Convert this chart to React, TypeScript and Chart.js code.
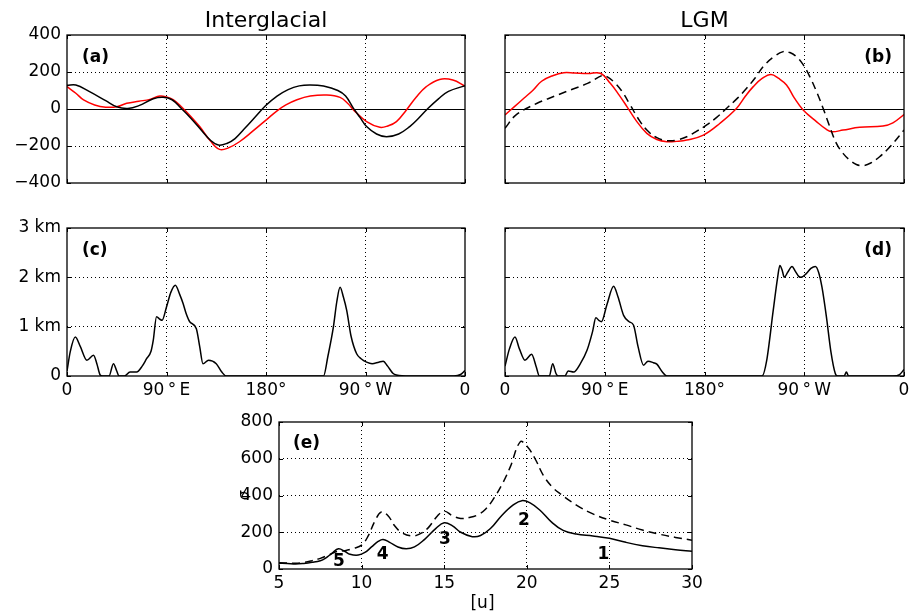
import React, { useEffect, useRef } from 'react';
import { Chart, registerables } from 'chart.js';

Chart.register(...registerables);

// ---------------- DATA ----------------
// Panel (a) Interglacial: longitude (deg, 0..360 eastward) and values
const aBlackLon = [0, 8, 20, 35, 45, 55, 65, 78, 87, 95, 103, 112, 120, 130, 137, 145, 152, 160, 170, 180, 190, 200, 210, 220, 232, 245, 252, 259, 265, 271, 280, 289, 300, 310, 318, 326, 336, 345, 360];
const aBlackVal = [128, 130, 95, 45, 12, 3, 18, 55, 63, 50, 5, -50, -104, -170, -195, -185, -160, -110, -45, 20, 70, 105, 125, 130, 124, 100, 70, 5, -45, -95, -135, -150, -135, -95, -50, 0, 55, 95, 126];
const aRedLon = [0, 8, 15, 25, 35, 45, 54, 65, 75, 84, 90, 96, 103, 112, 120, 130, 138, 146, 156, 168, 180, 190, 198, 208, 220, 235, 247, 254, 260, 271, 283, 290, 298, 307, 316, 325, 337, 349, 360];
const aRedVal = [121, 85, 49, 22, 10, 12, 31, 42, 52, 70, 65, 50, 15, -40, -95, -175, -218, -210, -177, -120, -60, -10, 22, 50, 70, 76, 63, 30, -10, -68, -99, -92, -68, -5, 65, 121, 160, 157, 124];

// Panel (b) LGM
const bRedLon = [0, 8, 17, 25, 33, 43, 53, 63, 75, 86, 95, 103, 110, 118, 128, 137, 146, 155, 164, 179, 194, 209, 217, 224, 232, 240, 247, 254, 261, 269, 281, 290, 295, 305, 320, 341, 350, 360];
const bRedVal = [-32, 10, 58, 100, 150, 180, 196, 194, 192, 193, 139, 75, 13, -60, -132, -165, -177, -175, -168, -141, -77, 4, 70, 121, 165, 187, 165, 130, 60, -5, -68, -110, -123, -114, -99, -92, -75, -30];
const bDashLon = [0, 10, 29, 45, 59, 75, 88, 92, 98, 105, 113, 120, 128, 137, 146, 155, 164, 173, 182, 191, 200, 210, 218, 226, 233, 242, 251, 257, 263, 269, 275, 281, 287, 293, 299, 305, 311, 317, 323, 330, 338, 348, 360];
const bDashVal = [-104, -32, 31, 70, 103, 140, 182, 175, 148, 100, 22, -50, -114, -155, -171, -168, -150, -120, -86, -45, 4, 60, 112, 170, 229, 280, 310, 305, 283, 240, 175, 95, 4, -95, -186, -240, -276, -300, -306, -292, -258, -200, -114];

// Panel (c) Interglacial topography (km)
const cLon = [0, 3, 7.5, 12, 18, 24, 27, 30, 32, 38, 42, 45, 47, 52, 57, 63, 68, 72, 76, 78, 81, 84, 86, 90, 94, 98, 102, 105, 108, 111, 117, 120, 123, 128, 135, 140, 144, 232, 236, 241, 244, 247, 250, 253, 257, 262, 266, 271, 276, 282, 286, 290, 295, 298, 310, 350, 356, 360];
const cTopo = [0.1, 0.5, 0.79, 0.6, 0.32, 0.42, 0.25, 0.02, 0, 0, 0.25, 0.1, 0, 0, 0.08, 0.08, 0.2, 0.35, 0.5, 0.72, 1.2, 1.15, 1.13, 1.4, 1.7, 1.84, 1.65, 1.47, 1.25, 1.1, 0.96, 0.6, 0.25, 0.32, 0.25, 0.08, 0, 0, 0.4, 1.0, 1.5, 1.8, 1.6, 1.33, 0.8, 0.45, 0.35, 0.28, 0.25, 0.28, 0.3, 0.2, 0.05, 0.02, 0, 0, 0.03, 0.11];

// Panel (d) LGM topography (km)
const dLon = [0, 4, 9, 13, 18, 24, 28, 31, 40, 43, 46, 48, 54, 57, 62, 68, 74, 79, 82, 85, 87, 92, 98, 102, 107, 112, 116, 120, 125, 129, 134, 137, 142, 146, 232, 236, 242, 246, 248, 250, 252, 255, 259, 262, 265, 267, 272, 276, 280, 283, 286, 290, 294, 298, 300, 306, 308, 310, 350, 356, 360];
const dTopo = [0.2, 0.55, 0.79, 0.55, 0.32, 0.44, 0.2, 0, 0, 0.25, 0.05, 0, 0, 0.1, 0.08, 0.25, 0.52, 0.9, 1.18, 1.12, 1.1, 1.45, 1.82, 1.6, 1.23, 1.1, 1.03, 0.6, 0.22, 0.3, 0.27, 0.24, 0.08, 0, 0, 0.3, 1.33, 2.0, 2.24, 2.15, 2.0, 2.1, 2.22, 2.12, 2.02, 2.0, 2.08, 2.18, 2.22, 2.1, 1.8, 1.2, 0.5, 0.05, 0, 0, 0.08, 0, 0, 0.03, 0.13];

// Panel (e) sigma vs [u]
const eSolidU = [5, 5.5, 6, 6.5, 7, 7.5, 7.8, 8.2, 8.6, 9, 9.3, 9.8, 10.2, 10.6, 11, 11.3, 11.7, 12.2, 12.7, 13.2, 13.8, 14.5, 15, 15.5, 16, 16.7, 17.2, 17.8, 18.5, 19.2, 19.7, 20.2, 20.8, 21.5, 22.2, 23, 24, 25, 26, 27, 28, 29, 30];
const eSolidVal = [31, 30, 27, 30, 36, 45, 58, 85, 110, 95, 80, 76, 90, 120, 150, 161, 145, 120, 110, 120, 160, 221, 252, 235, 200, 176, 182, 220, 293, 350, 372, 360, 320, 255, 210, 190, 180, 167, 145, 127, 115, 105, 97];
const eDashU = [5, 6, 6.5, 7, 7.5, 8, 8.5, 9, 9.5, 10, 10.4, 10.8, 11.2, 11.6, 12, 12.4, 13, 13.5, 14, 14.6, 15, 15.5, 16, 16.5, 17, 17.5, 18, 18.5, 19, 19.6, 20, 20.5, 21, 21.5, 22, 23, 24, 25, 26, 27, 28, 29, 30];
const eDashVal = [34, 31, 35, 45, 58, 76, 95, 100, 112, 130, 180, 260, 311, 290, 235, 200, 180, 190, 221, 290, 315, 290, 275, 280, 293, 325, 384, 460, 556, 692, 670, 600, 510, 450, 411, 348, 300, 266, 240, 212, 190, 172, 157];

// Tick labels
const lonTicks = [0, 90, 180, 270, 360];
const lonTickLabels = ['0', '90\u2009°\u2009E', '180°', '90\u2009°\u2009W', '0'];
const anomTicks = [-400, -200, 0, 200, 400];
const topoTicks = [0, 1, 2, 3];
const topoTickLabels = ['0', '1 km', '2 km', '3 km'];
const uTicks = [5, 10, 15, 20, 25, 30];
const sigmaTicks = [0, 200, 400, 600, 800];
const peakLabels = ['5', '4', '3', '2', '1'];
const peakU = [8.63, 11.27, 15.05, 19.83, 24.64];
const peakSigma = [40, 76, 158, 261, 76];

// ---------------- LAYOUT / STYLE ----------------
const W = 909;
const H = 613;
const FAM = "'DejaVu Sans', sans-serif";
const TICK_FONT = 17;
const RED = '#ff0000';

const zip = (xs: number[], ys: number[]) => xs.map((x, i) => ({ x, y: ys[i] }));
const fmtMinus = (v: number) => (v < 0 ? '\u2212' + Math.abs(v) : String(v));

type TextItem = {
  text: string;
  font: string;
  ref: 'tl' | 'tr' | 'data' | 'bc' | 'tc' | 'lc';
  x: number;
  y: number;
  align?: CanvasTextAlign;
  baseline?: CanvasTextBaseline;
  rot?: number;
};

type Spec = {
  box: { l: number; t: number; r: number; b: number };
  x: { min: number; max: number; ticks: number[]; labels: ((v: number) => string) | null };
  y: { min: number; max: number; ticks: number[]; labels: ((v: number) => string) | null };
  datasets: any[];
  zeroLine?: boolean;
  texts: TextItem[];
};

function makeDecor(spec: Spec) {
  return {
    id: 'decor',
    beforeDatasetsDraw(chart: any) {
      if (!spec.zeroLine) return;
      const { ctx, chartArea } = chart;
      const y = Math.round(chart.scales.y.getPixelForValue(0)) + 0.5;
      ctx.save();
      ctx.strokeStyle = '#000';
      ctx.lineWidth = 1.2;
      ctx.beginPath();
      ctx.moveTo(chartArea.left, y);
      ctx.lineTo(chartArea.right, y);
      ctx.stroke();
      ctx.restore();
    },
    afterDraw(chart: any) {
      const { ctx, chartArea } = chart;
      const { left, right, top, bottom } = chartArea;
      const xs = chart.scales.x;
      const ys = chart.scales.y;
      ctx.save();
      ctx.strokeStyle = '#000';
      ctx.lineWidth = 1;
      const L = 4;
      ctx.beginPath();
      spec.x.ticks.forEach((v) => {
        const px = Math.round(xs.getPixelForValue(v)) + 0.5;
        ctx.moveTo(px, bottom);
        ctx.lineTo(px, bottom - L);
        ctx.moveTo(px, top);
        ctx.lineTo(px, top + L);
      });
      spec.y.ticks.forEach((v) => {
        const py = Math.round(ys.getPixelForValue(v)) + 0.5;
        ctx.moveTo(left, py);
        ctx.lineTo(left + L, py);
        ctx.moveTo(right, py);
        ctx.lineTo(right - L, py);
      });
      ctx.stroke();
      ctx.lineWidth = 1.3;
      ctx.strokeRect(left, top, right - left, bottom - top);
      ctx.fillStyle = '#000';
      spec.texts.forEach((t) => {
        let px = 0;
        let py = 0;
        if (t.ref === 'tl') { px = left + t.x; py = top + t.y; }
        else if (t.ref === 'tr') { px = right + t.x; py = top + t.y; }
        else if (t.ref === 'tc') { px = (left + right) / 2 + t.x; py = top + t.y; }
        else if (t.ref === 'bc') { px = (left + right) / 2 + t.x; py = bottom + t.y; }
        else if (t.ref === 'lc') { px = left + t.x; py = (top + bottom) / 2 + t.y; }
        else { px = xs.getPixelForValue(t.x); py = ys.getPixelForValue(t.y); }
        ctx.save();
        ctx.font = t.font;
        ctx.textAlign = t.align || 'left';
        ctx.textBaseline = t.baseline || 'alphabetic';
        ctx.translate(px, py);
        if (t.rot) ctx.rotate(t.rot);
        ctx.fillText(t.text, 0, 0);
        ctx.restore();
      });
      ctx.restore();
    },
  };
}

function makeConfig(spec: Spec): any {
  const yW = spec.y.labels ? 60 : 0;
  const xH = spec.x.labels ? 30 : 0;
  const gridColor = (min: number, max: number) => (c: any) => {
    const v = c.tick ? c.tick.value : null;
    if (v === null || v === min || v === max) return 'rgba(0,0,0,0)';
    return '#000';
  };
  const scaleBase = (axis: 'x' | 'y', cfg: Spec['x']) => ({
    type: 'linear',
    min: cfg.min,
    max: cfg.max,
    afterBuildTicks: (s: any) => {
      s.ticks = cfg.ticks.map((v) => ({ value: v }));
    },
    ticks: {
      display: !!cfg.labels,
      autoSkip: false,
      maxRotation: 0,
      minRotation: 0,
      padding: axis === 'x' ? 4 : 6,
      color: '#000',
      font: { family: FAM, size: TICK_FONT },
      callback: (v: number) => (cfg.labels ? cfg.labels(v) : ''),
    },
    grid: {
      display: true,
      drawTicks: false,
      color: gridColor(cfg.min, cfg.max),
      lineWidth: 1,
    },
    border: { display: false, dash: [1, 3] },
    afterFit: (s: any) => {
      if (axis === 'x') s.height = xH;
      else s.width = yW;
      s.paddingLeft = 0;
      s.paddingRight = 0;
      s.paddingTop = 0;
      s.paddingBottom = 0;
    },
  });
  return {
    type: 'line',
    data: { datasets: spec.datasets },
    options: {
      responsive: false,
      maintainAspectRatio: false,
      animation: false,
      devicePixelRatio: 1,
      events: [],
      parsing: true,
      layout: {
        padding: {
          left: spec.box.l - yW,
          top: spec.box.t,
          right: W - spec.box.r,
          bottom: H - spec.box.b - xH,
        },
      },
      plugins: {
        legend: { display: false },
        tooltip: { enabled: false },
        title: { display: false },
      },
      elements: { point: { radius: 0 }, line: { borderWidth: 1.5 } },
      scales: { x: scaleBase('x', spec.x), y: scaleBase('y', spec.y) },
    },
    plugins: [makeDecor(spec)],
  };
}

// smooth: tension spline for smooth fields; monotone for topography (no overshoot below 0)
const line = (data: any[], color: string, dash?: number[], mono?: boolean) => ({
  data,
  borderColor: color,
  backgroundColor: color,
  borderWidth: 1.5,
  borderDash: dash || [],
  pointRadius: 0,
  fill: false,
  ...(mono ? { cubicInterpolationMode: 'monotone' } : { tension: 0.4 }),
});

const lonLabel = (v: number) => lonTickLabels[lonTicks.indexOf(Math.round(v))] ?? '';
const topoLabel = (v: number) => topoTickLabels[topoTicks.indexOf(Math.round(v))] ?? '';
const BOLD = `bold ${TICK_FONT}px ${FAM}`;
const TITLE = `22px ${FAM}`;

const specs: Spec[] = [
  {
    box: { l: 67, t: 35, r: 465, b: 183 },
    x: { min: 0, max: 360, ticks: lonTicks, labels: null },
    y: { min: -400, max: 400, ticks: anomTicks, labels: fmtMinus },
    datasets: [line(zip(aBlackLon, aBlackVal), '#000'), line(zip(aRedLon, aRedVal), RED)],
    zeroLine: true,
    texts: [
      { text: 'Interglacial', font: TITLE, ref: 'tc', x: 0, y: -8, align: 'center' },
      { text: '(a)', font: BOLD, ref: 'tl', x: 15, y: 23, baseline: 'middle' },
    ],
  },
  {
    box: { l: 505, t: 35, r: 904, b: 183 },
    x: { min: 0, max: 360, ticks: lonTicks, labels: null },
    y: { min: -400, max: 400, ticks: anomTicks, labels: null },
    datasets: [line(zip(bDashLon, bDashVal), '#000', [8, 5]), line(zip(bRedLon, bRedVal), RED)],
    zeroLine: true,
    texts: [
      { text: 'LGM', font: TITLE, ref: 'tc', x: 0, y: -8, align: 'center' },
      { text: '(b)', font: BOLD, ref: 'tr', x: -12, y: 23, align: 'right', baseline: 'middle' },
    ],
  },
  {
    box: { l: 67, t: 228, r: 465, b: 376 },
    x: { min: 0, max: 360, ticks: lonTicks, labels: lonLabel },
    y: { min: 0, max: 3, ticks: topoTicks, labels: topoLabel },
    datasets: [line(zip(cLon, cTopo), '#000', undefined, true)],
    texts: [{ text: '(c)', font: BOLD, ref: 'tl', x: 15, y: 23, baseline: 'middle' }],
  },
  {
    box: { l: 505, t: 228, r: 904, b: 376 },
    x: { min: 0, max: 360, ticks: lonTicks, labels: lonLabel },
    y: { min: 0, max: 3, ticks: topoTicks, labels: null },
    datasets: [line(zip(dLon, dTopo), '#000', undefined, true)],
    texts: [{ text: '(d)', font: BOLD, ref: 'tr', x: -12, y: 23, align: 'right', baseline: 'middle' }],
  },
  {
    box: { l: 279, t: 422, r: 692, b: 569 },
    x: { min: 5, max: 30, ticks: uTicks, labels: (v: number) => String(v) },
    y: { min: 0, max: 800, ticks: sigmaTicks, labels: (v: number) => String(v) },
    datasets: [line(zip(eDashU, eDashVal), '#000', [8, 5]), line(zip(eSolidU, eSolidVal), '#000')],
    texts: [
      { text: '(e)', font: BOLD, ref: 'tl', x: 14, y: 22, baseline: 'middle' },
      { text: '[u]', font: `${TICK_FONT}px ${FAM}`, ref: 'bc', x: -3, y: 39, align: 'center' },
      { text: 'σ', font: `italic 15px ${FAM}`, ref: 'lc', x: -34, y: 0, align: 'center', baseline: 'middle', rot: -Math.PI / 2 },
      ...peakLabels.map((s, i) => ({
        text: s,
        font: BOLD,
        ref: 'data' as const,
        x: peakU[i],
        y: peakSigma[i],
        align: 'center' as CanvasTextAlign,
        baseline: 'middle' as CanvasTextBaseline,
      })),
    ],
  },
];

function Panel({ spec }: { spec: Spec }) {
  const ref = useRef<HTMLCanvasElement | null>(null);
  useEffect(() => {
    if (!ref.current) return;
    const chart = new Chart(ref.current, makeConfig(spec));
    return () => chart.destroy();
  }, [spec]);
  return (
    <canvas
      ref={ref}
      width={W}
      height={H}
      style={{ position: 'absolute', left: 0, top: 0, width: W, height: H }}
    />
  );
}

export default function App() {
  return (
    <div style={{ position: 'fixed', left: 0, top: 0, width: W, height: H, background: '#fff', overflow: 'hidden' }}>
      {specs.map((s, i) => (
        <Panel key={i} spec={s} />
      ))}
    </div>
  );
}
